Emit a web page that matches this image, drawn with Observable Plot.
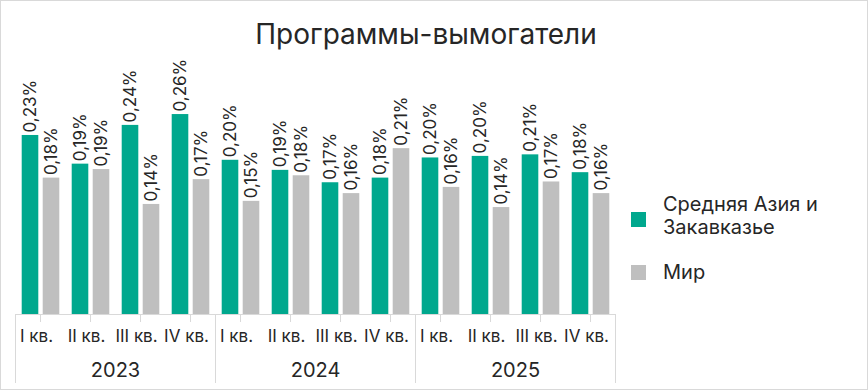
<!DOCTYPE html>
<html>
<head>
<meta charset="utf-8">
<script src="https://cdn.jsdelivr.net/npm/d3@7"></script>
<script src="https://cdn.jsdelivr.net/npm/@observablehq/plot@0.6"></script>
<style>
  body { margin: 0; background: #fff; font-family: Inter, "Noto Sans", sans-serif; color: #262626; }
  #wrap { position: relative; width: 868px; height: 390px; overflow: hidden; background: #fff; }
  #wrap svg { position: absolute; left: 0; top: 0; }
  #border { position: absolute; left: 0; top: 0; width: 868px; height: 390px; box-sizing: border-box; border: 1px solid #d9d9d9; pointer-events: none; }
  #title { position: absolute; left: 0; top: 20px; width: 852px; text-align: center; font-size: 28px; line-height: 28px; white-space: nowrap; }
  .sw { position: absolute; width: 15px; height: 15px; }
  .lt { position: absolute; font-size: 20px; line-height: 23px; width: 180px; }
</style>
</head>
<body>
<div id="wrap">
  <div id="title">Программы-вымогатели</div>
</div>
<script>
const years = ["2023", "2024", "2025"];
const quarters = ["I кв.", "II кв.", "III кв.", "IV кв."];
const seriesNames = ["Средняя Азия и Закавказье", "Мир"];
const seriesColors = ["#00A88E", "#BFBFBF"];
const regionValues = [0.231, 0.194, 0.244, 0.258, 0.199, 0.186, 0.170, 0.176, 0.202, 0.204, 0.206, 0.183];
const worldValues  = [0.176, 0.187, 0.142, 0.174, 0.146, 0.179, 0.156, 0.214, 0.164, 0.138, 0.171, 0.156];

const keys = years.flatMap(y => quarters.map(q => `${y}|${q}`));
const regionData = keys.map((k, i) => ({key: k, value: regionValues[i]}));
const worldData = keys.map((k, i) => ({key: k, value: worldValues[i]}));
const fmt = v => d3.format(".2f")(v).replace(".", ",") + "%";
const ink = "#262626";
const line = "#d9d9d9";

const chart = Plot.plot({
  width: 868,
  height: 390,
  marginLeft: 15,
  marginRight: 253,
  marginTop: 81.5,
  marginBottom: 76,
  style: {fontFamily: "Inter, 'Noto Sans', sans-serif", color: ink, background: "transparent", overflow: "visible"},
  x: {domain: keys, padding: 0, round: false, axis: null, label: null},
  y: {domain: [0, 0.3], axis: null, label: null},
  marks: [
    Plot.barY(regionData, {x: "key", y: "value", fill: seriesColors[0], insetLeft: 6.7, insetRight: 26.7}),
    Plot.barY(worldData, {x: "key", y: "value", fill: seriesColors[1], insetLeft: 27.7, insetRight: 5.7}),
    Plot.text(regionData, {x: "key", y: "value", text: d => fmt(d.value), rotate: -90, textAnchor: "start", dx: -10, dy: -3, fontSize: 17, fill: ink}),
    Plot.text(worldData, {x: "key", y: "value", text: d => fmt(d.value), rotate: -90, textAnchor: "start", dx: 11, dy: -3, fontSize: 17, fill: ink}),
    Plot.ruleY([0], {stroke: line}),
    Plot.axisX({tickSize: 8, tickFormat: () => "", stroke: line, label: null}),
    Plot.axisX({tickSize: 0, tickPadding: 15, tickFormat: k => k.split("|")[1], fill: ink, fontSize: 17, dx: -4, label: null}),
    Plot.ruleX(years, {x: y => `${y}|${quarters[0]}`, dx: -25, stroke: line, insetTop: 232.5, insetBottom: -69}),
    Plot.ruleX([years[years.length - 1]], {x: y => `${y}|${quarters[quarters.length - 1]}`, dx: 25, stroke: line, insetTop: 232.5, insetBottom: -69}),
    Plot.text(years, {x: y => `${y}|${quarters[2]}`, text: d => d, dx: -25, frameAnchor: "bottom", dy: 62.5, fontSize: 20, fill: ink})
  ]
});

const wrap = document.getElementById("wrap");
wrap.appendChild(chart);

// legend
const legendPos = [{sq: 212, tx: 193}, {sq: 265, tx: 261}];
seriesNames.forEach((name, i) => {
  const sw = document.createElement("div");
  sw.className = "sw";
  sw.style.left = "631px";
  sw.style.top = legendPos[i].sq + "px";
  sw.style.background = seriesColors[i];
  wrap.appendChild(sw);
  const t = document.createElement("div");
  t.className = "lt";
  t.style.left = "663px";
  t.style.top = legendPos[i].tx + "px";
  t.textContent = name;
  wrap.appendChild(t);
});

const border = document.createElement("div");
border.id = "border";
wrap.appendChild(border);
</script>
</body>
</html>
